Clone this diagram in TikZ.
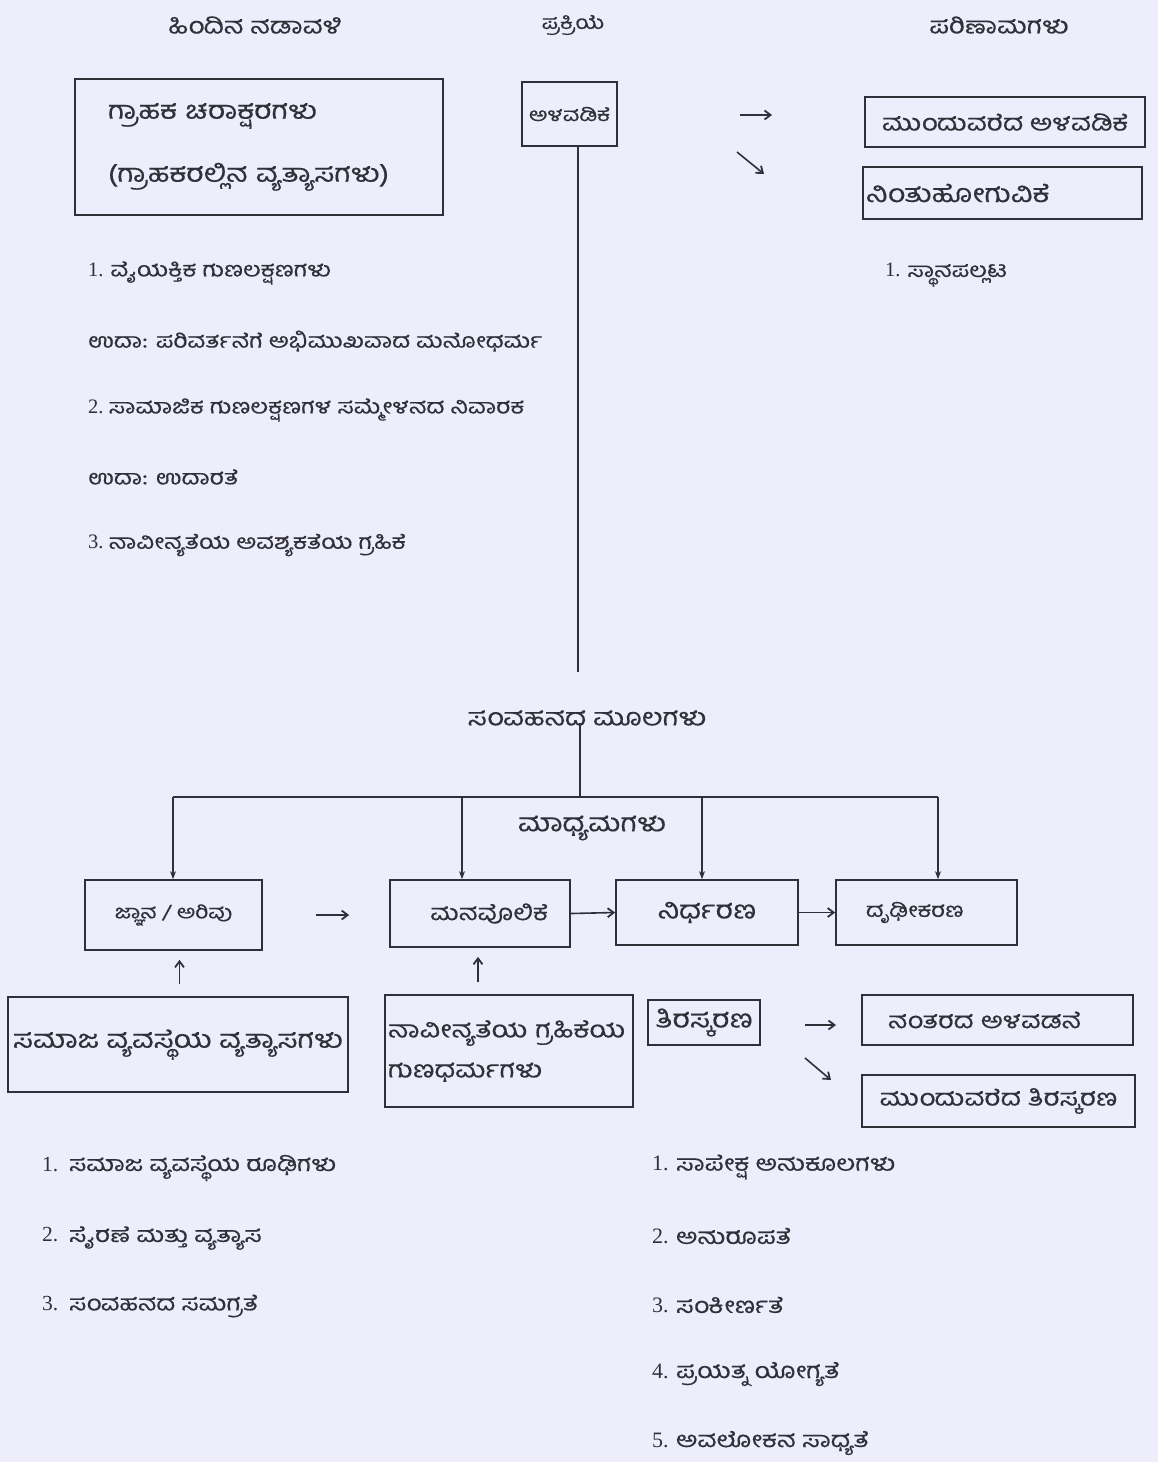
\documentclass[tikz,border=0pt]{standalone}
\usepackage{fontspec}
\setmainfont{Liberation Serif}
\newfontfamily\kn[Script=Kannada,FakeStretch=1.2,FakeBold=0.4]{Hind Mysuru}
\usetikzlibrary{arrows.meta}
\definecolor{paper}{RGB}{238,237,252}
\definecolor{ink}{RGB}{48,48,56}
\newcommand{\fsz}[1]{\fontsize{#1}{#1}\selectfont}
\begin{document}
\begin{tikzpicture}[x=1pt,y=-1pt,
  txt/.style={text=ink,inner sep=0pt,font=\kn\fsz{25}},
  sz/.style={font=\kn\fsz{#1}},
  lst/.style={txt,anchor=west,font=\kn\fsz{20.5}},
  box/.style={draw=ink,line width=1.7pt,txt,inner sep=0pt},
  con/.style={draw=ink,line width=1.6pt},
  drop/.style={con,-{Stealth[length=8pt,width=6pt]}},
  arr/.style={con,-{Straight Barb[length=6pt,width=9pt,line width=1.8pt]}}]
\useasboundingbox[fill=paper] (0,0) rectangle (1158,1462);

% headers
\node[txt,sz=23] (h1) at (255,25) {ಹಿಂದಿನ ನಡಾವಳಿ};
\node[txt,sz=19] (h2) at (573,25) {ಪ್ರಕ್ರಿಯೆ};
\node[txt,sz=23] (h3) at (999,25) {ಪರಿಣಾಮಗಳು};

% top boxes
\node[box,minimum width=368,minimum height=136,text width=302,align=left,
      font=\kn\fontsize{25}{63}\selectfont] (L) at (259,147)
      {ಗ್ರಾಹಕ ಚರಾಕ್ಷರಗಳು\\(ಗ್ರಾಹಕರಲ್ಲಿನ ವ್ಯತ್ಯಾಸಗಳು)};
\node[box,sz=19,minimum width=95,minimum height=64] (P) at (569.5,114) {ಅಳವಡಿಕೆ};
\node[box,sz=23,minimum width=280,minimum height=50] (R1) at (1005,122) {ಮುಂದುವರೆದ ಅಳವಡಿಕೆ};
\node[box,minimum width=279,minimum height=52,text width=273,align=left] (R2) at (1002.5,193) {ನಿಂತುಹೋಗುವಿಕೆ};

\coordinate (ta1) at (740,115); \coordinate (tb1) at (772,115);
\coordinate (ta2) at (737,152); \coordinate (tb2) at (764,174);
\draw[arr] (ta1) -- (tb1);
\draw[arr] (ta2) -- (tb2);

\node[lst] (r1) at (885,275) {\rmfamily 1. \kn ಸ್ಥಾನಪಲ್ಲಟ};

% left list
\node[lst] (l1) at (88,273) {\rmfamily 1. \kn ವೈಯಕ್ತಿಕ ಗುಣಲಕ್ಷಣಗಳು};
\node[lst] (l2) at (88,341) {ಉದಾ: ಪರಿವರ್ತನೆಗೆ ಅಭಿಮುಖವಾದ ಮನೋಧರ್ಮ};
\node[lst] (l3) at (88,410) {\rmfamily 2.\ \kn ಸಾಮಾಜಿಕ ಗುಣಲಕ್ಷಣಗಳ ಸಮ್ಮೇಳನದ ನಿವಾರಕ};
\node[lst] (l4) at (88,477) {ಉದಾ: ಉದಾರತೆ};
\node[lst] (l5) at (88,545) {\rmfamily 3.\ \kn ನಾವೀನ್ಯತೆಯ ಅವಶ್ಯಕತೆಯ ಗ್ರಹಿಕೆ};

% sources
\node[txt,sz=24] (SRC) at (587,718) {ಸಂವಹನದ ಮೂಲಗಳು};
\draw[con] ([xshift=8.5pt]P.south) -- ([xshift=8.5pt]P.south |- 0,672);
\coordinate (hb) at (580,797);
\draw[con] ([yshift=3pt]SRC.south -| hb) -- (hb);
\coordinate (hl) at (173,797); \coordinate (hr) at (938,797);
\draw[con] (hl) -- (hr);
\node[txt] (MED) at (592,828) {ಮಾಧ್ಯಮಗಳು};

% stage boxes
\node[box,sz=19,minimum width=177,minimum height=70] (J) at (173.5,915) {ಜ್ಞಾನ / ಅರಿವು};
\node[box,sz=22,minimum width=180,minimum height=67,text width=136,align=right] (M) at (480,913.5) {ಮನವೊಲಿಕೆ};
\node[box,minimum width=182,minimum height=65] (N) at (707,912.5) {ನಿರ್ಧರಣ};
\node[box,sz=20,minimum width=181,minimum height=65,text width=121,align=left] (D) at (926.5,912.5) {ದೃಢೀಕರಣ};

\coordinate (dm) at (462,797); \coordinate (dn) at (702,797);
\draw[drop] (hl) -- (hl |- J.north);
\draw[drop] (dm) -- (dm |- M.north);
\draw[drop] (dn) -- (dn |- N.north);
\draw[drop] (hr) -- (hr |- D.north);

\draw[arr,shorten <=53pt,shorten >=40pt] (J.east) -- (J.east -| M.west);
\draw[arr] (M.east) -- (N.west);
\draw[arr] (N.east) -- (D.west);

% lower boxes
\node[box,minimum width=340,minimum height=95] (S) at (178,1044.5) {ಸಮಾಜ ವ್ಯವಸ್ಥೆಯ ವ್ಯತ್ಯಾಸಗಳು};
\node[box,minimum width=248,minimum height=112,text width=242,align=left,
      font=\kn\fontsize{23.5}{40}\selectfont] (G) at (509,1051)
      {\mbox{ನಾವೀನ್ಯತೆಯ ಗ್ರಹಿಕೆಯ}\\\mbox{ಗುಣಧರ್ಮಗಳು}};
\node[box,minimum width=112,minimum height=45] (T) at (704,1022.5) {ತಿರಸ್ಕರಣ};
\node[box,sz=22.5,minimum width=271,minimum height=50,text width=219,align=left] (A2) at (997.5,1020) {ನಂತರದ ಅಳವಡನೆ};
\node[box,sz=23,minimum width=273,minimum height=52] (C2) at (998.5,1101) {ಮುಂದುವರೆದ ತಿರಸ್ಕರಣ};

\draw[arr,shorten <=12pt,shorten >=9pt] ([xshift=6pt]S.north -| J.south) -- ([xshift=6pt]J.south);
\draw[arr,shorten <=12pt,shorten >=9pt] ([xshift=-2pt]G.north -| M.south) -- ([xshift=-2pt]M.south);

\coordinate (ba1) at (805,1025); \coordinate (bb1) at (836,1025);
\coordinate (ba2) at (805,1058); \coordinate (bb2) at (831,1080);
\draw[arr] (ba1) -- (bb1);
\draw[arr] (ba2) -- (bb2);

% bottom lists
\node[lst,sz=21.5] (s1) at (42,1168) {\rmfamily 1.\ \ \kn ಸಮಾಜ ವ್ಯವಸ್ಥೆಯ ರೂಢಿಗಳು};
\node[lst,sz=21.5] (s2) at (42,1238) {\rmfamily 2.\ \ \kn ಸೈರಣೆ ಮತ್ತು ವ್ಯತ್ಯಾಸ};
\node[lst,sz=21.5] (s3) at (42,1306) {\rmfamily 3.\ \ \kn ಸಂವಹನದ ಸಮಗ್ರತೆ};

\node[lst,sz=22] (g1) at (652,1167) {\rmfamily 1. \kn ಸಾಪೇಕ್ಷ ಅನುಕೂಲಗಳು};
\node[lst,sz=22] (g2) at (652,1236) {\rmfamily 2. \kn ಅನುರೂಪತೆ};
\node[lst,sz=22] (g3) at (652,1305) {\rmfamily 3. \kn ಸಂಕೀರ್ಣತೆ};
\node[lst,sz=22] (g4) at (652,1374) {\rmfamily 4. \kn ಪ್ರಯತ್ನ ಯೋಗ್ಯತೆ};
\node[lst,sz=22] (g5) at (652,1443) {\rmfamily 5. \kn ಅವಲೋಕನ ಸಾಧ್ಯತೆ};
\end{tikzpicture}
\end{document}
